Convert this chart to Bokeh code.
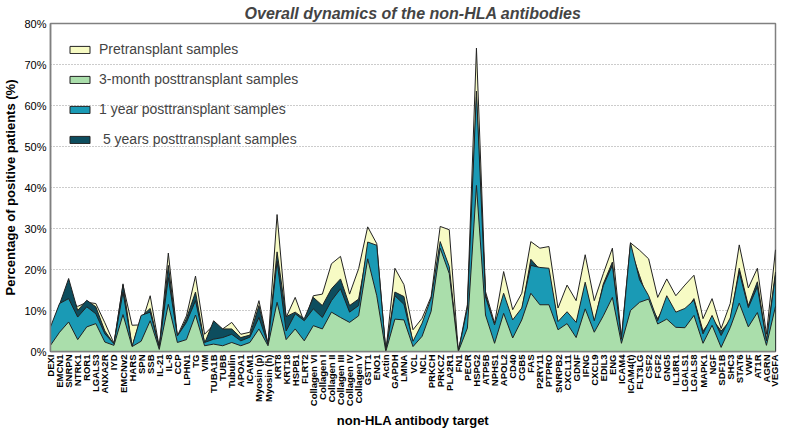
import math
from bokeh.plotting import figure
from bokeh.models import Range1d, FixedTicker, PrintfTickFormatter, Legend, LegendItem
from bokeh.embed import file_html
from bokeh.resources import INLINE

categories = ["DEXI", "EMCN1", "SNRPN", "NTRK1", "ROR1", "LGALS3", "ANXA2R", "IYD", "EMCNv2", "HARS",
              "SPN", "SSB", "IL-21", "IL-8", "CCP", "LPHN1", "TG", "VIM", "TUBA1B", "TUBB",
              "Tubulin", "APOA1", "ICAM1", "Myosin (p)", "Myosin (h)", "KRT8", "KRT18", "HSPB1", "FLRT2", "Collagen VI",
              "Collagen I", "Collagen II", "Collagen III", "Collagen IV", "Collagen V", "GSTT1", "ENO1", "Actin", "GAPDH", "LMNA",
              "VCL", "NCL", "PRKCH", "PRKCZ", "PLA2R1", "FN1", "PECR", "HSPG2", "ATP5B", "NPHS1",
              "APOL2", "CD40", "CGB5", "FAS", "P2RY11", "PTPRO", "SNRPB2", "CXCL11", "GDNF", "IFNG",
              "CXCL9", "EDIL3", "ENG", "ICAM4", "ICAM4(t)", "FLT3LG", "CSF2", "FGF2", "GNG5", "IL18R1",
              "LGALS1", "LGALS8", "MAPK1", "NGF", "SDF1B", "SHC3", "STAT6", "VWF", "AT1R", "AGRN",
              "VEGFA"]

pretransplant = [5, 10, 13, 11, 12, 11.7, 7, 2, 16.2, 6.4,
                 6.5, 13.6, 1, 24, 3.8, 8.7, 18.4, 4.2, 6.5, 5.5,
                 7.1, 4.2, 4.7, 12.4, 1.8, 33.4, 8.3, 13.2, 7.1, 13.6,
                 14, 21.4, 23.2, 14, 20.2, 30.4, 26.3, 0, 20.3, 16.3,
                 5.3, 8.1, 13.4, 30.5, 29.7, 0, 11.4, 74, 14.6, 6.9,
                 19.5, 10.2, 14.2, 26.8, 25.2, 25.6, 10.6, 16.2, 12.4, 23.6,
                 12.4, 19, 25.2, 3.5, 26.5, 24.7, 22.6, 13.2, 17.7, 13.6,
                 16.2, 18.6, 8, 12.9, 5.6, 11.7, 26, 15.5, 20.3, 4.2,
                 24.8]

month3 = [1.5, 4.7, 7.2, 2.9, 6, 6.8, 2.3, 1.5, 9, 1.2,
          2.5, 7.5, 0.5, 11.5, 2.2, 2.9, 8.9, 1.4, 1.8, 1.4,
          2.2, 1.4, 2.2, 5.5, 1.4, 12, 2.9, 5.5, 2.6, 6.3,
          5.5, 9.6, 8.3, 7.1, 8.7, 22.6, 13.6, 0, 7.9, 7.7,
          1.2, 3.7, 9.8, 25.2, 19, 0, 5.7, 40.5, 8.9, 2,
          9.3, 3.3, 7.7, 14.2, 11.4, 11.4, 5.3, 6.8, 3.4, 10.4,
          4.7, 8.7, 13.2, 2, 10, 12, 12.8, 6.7, 7.9, 5.9,
          5.8, 8.8, 2, 6.4, 1, 5.8, 11.8, 6, 9.5, 1.5,
          11]

year1 = [6, 11.7, 12.9, 8.4, 10.9, 9.2, 4.3, 1.9, 14.5, 1.2,
         8.8, 9.6, 1, 18, 3.8, 7.1, 12.4, 2.2, 3, 3.4,
         4.2, 2.6, 3.5, 8.3, 1.8, 22, 5, 9.2, 7.5, 10.4,
         8.3, 12.4, 15.3, 9.6, 11.2, 26.7, 25.9, 0, 13.6, 11.5,
         2.5, 6.9, 13, 26.8, 20.7, 0, 10.6, 63.5, 13.3, 6.5,
         14.2, 7.7, 10.6, 21, 20.5, 20.3, 7.3, 9.7, 7.1, 16.9,
         7.5, 16.1, 21, 3, 26.5, 17.5, 13.6, 7.5, 13.6, 9.6,
         10.5, 12.5, 4.3, 8.8, 3.9, 8.2, 19.4, 10.7, 15.8, 2.6,
         18.6]

year5 = [5, 11.5, 17.8, 10, 12.5, 10.9, 5, 1.8, 16.5, 1.2,
         8.5, 10.5, 1, 21, 3.5, 8, 14.5, 2, 7.5, 5.5,
         5.5, 3.4, 4, 11.2, 1.8, 24.3, 8.5, 9.6, 8, 13.2,
         11.2, 15.3, 17.7, 11.2, 12.8, 25, 24, 0, 14.5, 13.4,
         2, 6, 12, 26, 19, 0, 10, 62, 14, 6,
         13, 7, 10, 22.5, 20, 19, 7, 9, 6.5, 16,
         7, 16.5, 21.8, 2.5, 25, 18.5, 12, 8, 12, 9,
         9.5, 12.9, 5, 8, 5, 7.5, 20.3, 11.2, 17, 2.5,
         19.4]

labels = ["Pretransplant samples", "3-month posttransplant samples",
          "1 year posttransplant samples", " 5 years posttransplant samples"]
colors = ["#F7FBC4", "#AADEAB", "#1A9AB5", "#0D4D5E"]
x_title = "non-HLA antibody target"
y_title = "Percentage of positive patients (%)"

FONT = "Liberation Sans"
x = list(range(len(categories)))

p = figure(width=779, height=431, output_backend="svg", toolbar_location=None,
           x_range=Range1d(0, len(categories) - 1), y_range=Range1d(0, 80),
           min_border_left=39, min_border_right=4, min_border_top=19, min_border_bottom=76)

p.title.text = "Overall dynamics of the non-HLA antibodies"
p.title.align = "center"
p.title.text_font = FONT
p.title.text_font_style = "bold italic"
p.title.text_font_size = "16px"
p.title.standoff = 4

series = {
    labels[0]: pretransplant,
    labels[1]: month3,
    labels[2]: year1,
    labels[3]: year5,
}
color_of = dict(zip(labels, colors))
draw_order = [labels[0], labels[3], labels[2], labels[1]]
rends = {}
for name in draw_order:
    vals = series[name]
    xs = x + [x[-1], x[0]]
    ys = list(vals) + [0, 0]
    rends[name] = p.patch(xs, ys, fill_color=color_of[name], line_color="#222222", line_width=1)

legend = Legend(items=[LegendItem(label=n, renderers=[rends[n]]) for n in labels],
                location=(12, 197))
legend.border_line_alpha = 0
legend.background_fill_alpha = 0
legend.glyph_width = 25
legend.glyph_height = 9
legend.label_height = 20
legend.spacing = 10
legend.padding = 5
legend.margin = 0
legend.label_standoff = 7
legend.label_text_font = FONT
legend.label_text_font_size = "14px"
p.add_layout(legend)

p.xgrid.visible = False
p.ygrid.grid_line_color = "#999999"
p.ygrid.grid_line_dash = "1 2"
p.outline_line_color = "#808080"
p.outline_line_width = 1.5

p.yaxis.ticker = FixedTicker(ticks=list(range(0, 81, 10)))
p.yaxis.formatter = PrintfTickFormatter(format="%d%%")
p.yaxis.axis_label = y_title
p.yaxis.major_label_text_font_size = "11px"
p.yaxis.major_label_standoff = 4
p.yaxis.axis_label_standoff = 3

p.xaxis.ticker = FixedTicker(ticks=x)
p.xaxis.major_label_overrides = {i: c for i, c in enumerate(categories)}
p.xaxis.major_label_orientation = math.pi / 2
p.xaxis.major_label_text_font_size = "9.5px"
p.xaxis.major_label_text_font_style = "bold"
p.xaxis.major_label_standoff = 3
p.xaxis.axis_label = x_title
p.xaxis.axis_label_standoff = 4

for ax in (p.xaxis[0], p.yaxis[0]):
    ax.axis_line_color = "#808080"
    ax.axis_line_width = 1.5
    ax.major_tick_out = 0
    ax.major_tick_in = 0
    ax.minor_tick_out = 0
    ax.minor_tick_in = 0
    ax.major_label_text_font = FONT
    ax.major_label_text_color = "#000000"
    ax.axis_label_text_font = FONT
    ax.axis_label_text_font_style = "bold"
    ax.axis_label_text_font_size = "13px"
    ax.axis_label_text_color = "#000000"

open("out.html", "w").write(file_html(p, INLINE))
